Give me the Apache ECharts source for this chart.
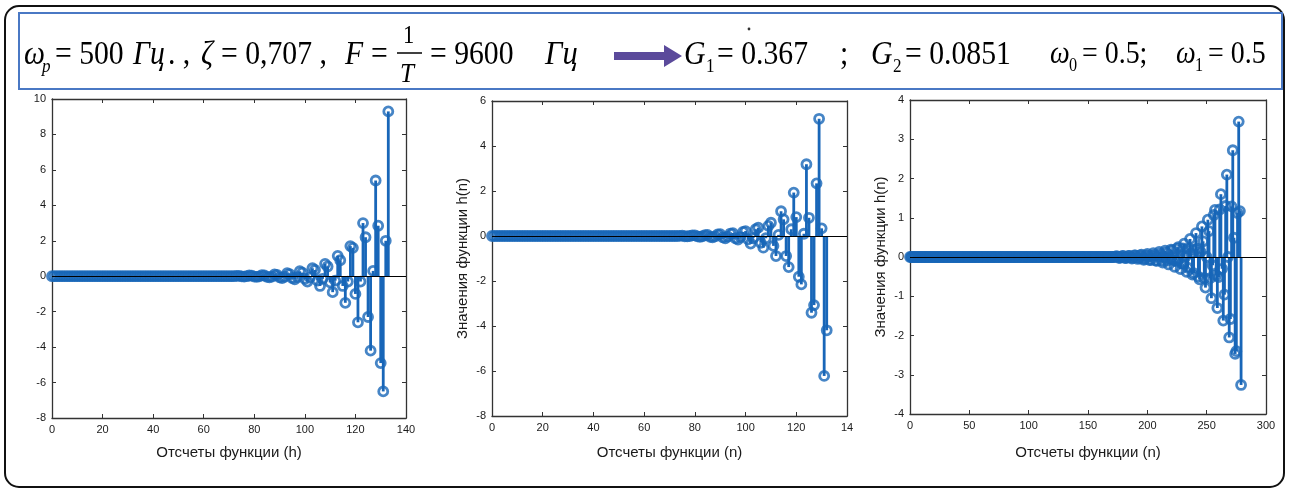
<!DOCTYPE html>
<html>
<head>
<meta charset="utf-8">
<script src="https://cdn.jsdelivr.net/npm/echarts@6/dist/echarts.min.js"></script>
<style>
html,body{margin:0;padding:0;background:#fff;}
#chart{width:1290px;height:493px;}
</style>
</head>
<body>
<div id="chart"></div>
<script>
// ---------- DATA ----------
// Panel 1: h(n), n = 0..133
const h1 = [
  0,0,0,0,0,0,0,0,0,0, 0,0,0,0,0,0,0,0,0,0,
  0,0,0,0,0,0,0,0,0,0, 0,0,0,0,0,0,0,0,0,0,
  0,0,0,0,0,0,0,0,0,0, 0,0,0,0,0,0,0,0,0,0,
  0,0,0,0,0,0,0,0,0,0, 0,0,0,
  0.02,0.02,-0.01,-0.02,0,0.04,0.03,-0.02,-0.04,-0.01,
  0.06,0.04,-0.04,-0.06,-0.02,0.1,0.07,-0.06,-0.11,-0.03,
  0.17,0.12,-0.1,-0.18,-0.05,0.28,0.2,-0.15,-0.3,-0.08,
  0.45,0.35,-0.25,-0.55,-0.15,0.7,0.55,-0.35,-0.9,-0.25,
  1.15,0.9,-0.55,-1.5,-0.3,1.7,1.6,-1.0,-2.6,-0.3,
  3.0,2.2,-2.3,-4.2,0.3,5.4,2.85,-4.9,-6.5,2.0,
  9.3
];
// Panel 2: h(n), n = 0..132
const h2 = [
  0,0,0,0,0,0,0,0,0,0, 0,0,0,0,0,0,0,0,0,0,
  0,0,0,0,0,0,0,0,0,0, 0,0,0,0,0,0,0,0,0,0,
  0,0,0,0,0,0,0,0,0,0, 0,0,0,0,0,0,0,0,0,0,
  0,0,0,0,0,0,0,0,0,0, 0,0,0,0,
  0.01,0.02,-0.01,-0.02,0,0.03,0.03,-0.02,-0.04,-0.01,
  0.04,0.05,-0.04,-0.06,-0.02,0.07,0.08,-0.06,-0.1,-0.03,
  0.11,0.13,-0.1,-0.16,-0.05,0.18,0.22,-0.15,-0.34,-0.1,
  0.3,0.37,-0.3,-0.52,-0.1,0.45,0.59,-0.44,-0.89,0.05,
  1.1,0.74,-0.89,-1.38,0.3,1.93,0.84,-1.81,-2.15,0.1,
  3.19,0.81,-3.41,-3.07,2.34,5.21,0.34,-6.22,-4.19
];
// Panel 3: h(n), n = 0..279
const h3 = [
  0,0,0,0,0,0,0,0,0,0, 0,0,0,0,0,0,0,0,0,0,
  0,0,0,0,0,0,0,0,0,0, 0,0,0,0,0,0,0,0,0,0,
  0,0,0,0,0,0,0,0,0,0, 0,0,0,0,0,0,0,0,0,0,
  0,0,0,0,0,0,0,0,0,0, 0,0,0,0,0,0,0,0,0,0,
  0,0,0,0,0,0,0,0,0,0, 0,0,0,0,0,0,0,0,0,0,
  0,0,0,0,0,0,0,0,0,0, 0,0,0,0,0,0,0,0,0,0,
  0,0,0,0,0,0,0,0,0,0, 0,0,0,0,0,0,0,0,0,0,
  0,0,0,0,0,0,0,0,0,0, 0,0,0,0,0,0,0,0,0,0,
  0,0,0,0,0,0,0,0,0,0, 0,0,0,
  0.01,0.02,0.01,-0.02,-0.02,0,0.03,0.02,-0.02,-0.03,
  -0.01,0.03,0.03,-0.01,-0.04,-0.02,0.04,0.04,-0.01,-0.05,
  -0.03,0.04,0.06,0,-0.07,-0.05,0.04,0.08,0.01,-0.08,
  -0.07,0.03,0.1,0.04,-0.09,-0.1,0.02,0.13,0.07,-0.09,
  -0.14,0,0.16,0.11,-0.09,-0.19,-0.04,0.19,0.17,-0.08,
  -0.25,-0.09,0.21,0.25,-0.05,-0.31,-0.17,0.22,0.34,0,
  -0.38,-0.27,0.22,0.46,0.09,-0.45,-0.41,0.19,0.61,0.21,
  -0.5,-0.57,0.13,0.78,0.4,-0.54,-0.78,0,0.95,0.66,
  -0.54,-1.05,-0.21,1.07,1.2,-0.47,-1.3,-0.51,1.21,1.6,
  -0.3,-1.62,-0.96,1.3,2.1,0,-2.05,-1.58,1.29,2.72,
  0.49,-2.47,-2.4,1.12,3.45,1.17,-3.26
];

// Tick values and labels
const xTicks1 = [0,20,40,60,80,100,120,140];
const xLabels1 = ['0','20','40','60','80','100','120','140'];
const yTicks1 = [-8,-6,-4,-2,0,2,4,6,8,10];
const yLabels1 = ['-8','-6','-4','-2','0','2','4','6','8','10'];
const xTicks2 = [0,20,40,60,80,100,120,140];
const xLabels2 = ['0','20','40','60','80','100','120','14'];
const yTicks2 = [-8,-6,-4,-2,0,2,4,6];
const yLabels2 = ['-8','-6','-4','-2','0','2','4','6'];
const xTicks3 = [0,50,100,150,200,250,300];
const xLabels3 = ['0','50','100','150','200','250','300'];
const yTicks3 = [-4,-3,-2,-1,0,1,2,3,4];
const yLabels3 = ['-4','-3','-2','-1','0','1','2','3','4'];

const xNames = ['Отсчеты функции (h)','Отсчеты функции (n)','Отсчеты функции (n)'];
const yNames = ['','Значения функции h(n)','Значения функции h(n)'];

// ---------- STYLE ----------
const STEM = '#1866b8';
const AXIS = '#333333';
const FONT = '"Liberation Sans", Arial, sans-serif';
const SERIF = '"Liberation Serif", "Times New Roman", serif';

const grids = [
  {left: 52, top: 99, width: 354, height: 319},
  {left: 492, top: 101, width: 355, height: 315},
  {left: 910, top: 100, width: 356, height: 314}
];
const xNameGaps = [27, 29, 31];

const panels = [
  {data: h1, xt: xTicks1, xl: xLabels1, yt: yTicks1, yl: yLabels1},
  {data: h2, xt: xTicks2, xl: xLabels2, yt: yTicks2, yl: yLabels2},
  {data: h3, xt: xTicks3, xl: xLabels3, yt: yTicks3, yl: yLabels3}
];

function fmt(ticks, labels) {
  return function (v) {
    const i = ticks.findIndex(t => Math.abs(t - v) < 1e-9);
    return i < 0 ? '' : labels[i];
  };
}

const xAxes = [], yAxes = [], series = [];
panels.forEach((p, g) => {
  const xmin = p.xt[0], xmax = p.xt[p.xt.length - 1];
  const xint = p.xt[1] - p.xt[0];
  const ymin = p.yt[0], ymax = p.yt[p.yt.length - 1];
  const yint = p.yt[1] - p.yt[0];
  const common = {type: 'value', gridIndex: g, splitLine: {show: false}};
  xAxes.push(Object.assign({}, common, {
    position: 'bottom', min: xmin, max: xmax, interval: xint,
    axisLine: {show: true, onZero: false, lineStyle: {color: AXIS, width: 1.3}},
    axisTick: {show: true, inside: true, length: 4, lineStyle: {color: AXIS}},
    axisLabel: {show: true, formatter: fmt(p.xt, p.xl), color: '#1a1a1a', fontSize: 11, fontFamily: FONT, margin: 6},
    name: xNames[g], nameLocation: 'middle', nameGap: xNameGaps[g],
    nameTextStyle: {color: '#1a1a1a', fontSize: 15, fontFamily: FONT}
  }));
  xAxes.push(Object.assign({}, common, {
    position: 'top', min: xmin, max: xmax, interval: xint,
    axisLine: {show: true, onZero: false, lineStyle: {color: AXIS, width: 1.3}},
    axisTick: {show: true, inside: true, length: 4, lineStyle: {color: AXIS}},
    axisLabel: {show: false}
  }));
  yAxes.push(Object.assign({}, common, {
    position: 'left', min: ymin, max: ymax, interval: yint,
    axisLine: {show: true, onZero: false, lineStyle: {color: AXIS, width: 1.3}},
    axisTick: {show: true, inside: true, length: 4, lineStyle: {color: AXIS}},
    axisLabel: {show: true, formatter: fmt(p.yt, p.yl), color: '#1a1a1a', fontSize: 11, fontFamily: FONT, margin: 6},
    name: yNames[g], nameLocation: 'middle', nameGap: 22, nameRotate: 90,
    nameTextStyle: {color: '#1a1a1a', fontSize: 15, fontFamily: FONT}
  }));
  yAxes.push(Object.assign({}, common, {
    position: 'right', min: ymin, max: ymax, interval: yint,
    axisLine: {show: true, onZero: false, lineStyle: {color: AXIS, width: 1.3}},
    axisTick: {show: true, inside: true, length: 4, lineStyle: {color: AXIS}},
    axisLabel: {show: false}
  }));
  const pts = p.data.map((v, i) => [i, v]);
  series.push({
    type: 'custom', xAxisIndex: 2 * g, yAxisIndex: 2 * g, data: pts,
    encode: {x: 0, y: 1}, z: 2, silent: true,
    renderItem: function (params, api) {
      const a = api.coord([api.value(0), 0]);
      const b = api.coord([api.value(0), api.value(1)]);
      return {type: 'line', shape: {x1: a[0], y1: a[1], x2: b[0], y2: b[1]},
              style: {stroke: STEM, lineWidth: 2.8}};
    },
    markLine: {silent: true, symbol: 'none', animation: false,
      data: [{yAxis: 0}], label: {show: false},
      lineStyle: {color: '#000', width: 1, type: 'solid'}}
  });
  series.push({
    type: 'scatter', xAxisIndex: 2 * g, yAxisIndex: 2 * g, data: pts, z: 3, silent: true,
    symbol: 'circle', symbolSize: 9,
    itemStyle: {color: 'rgba(0,0,0,0)', borderColor: STEM, borderWidth: 2.8}
  });
});

// ---------- HEADER (formula line) ----------
function t(x, y, text, size, italic, sx) {
  return {type: 'text', x: x, y: y, scaleX: sx || 0.9, silent: true,
    style: {text: text, fill: '#000', font: (italic ? 'italic ' : '') + size + 'px ' + SERIF,
            fontFamily: SERIF, fontSize: size, fontStyle: italic ? 'italic' : 'normal',
            align: 'left', verticalAlign: 'middle', textAlign: 'left', textVerticalAlign: 'middle'}};
}
const MY = 55;
const header = [
  {type: 'rect', shape: {x: 5, y: 6, width: 1279, height: 481, r: 14}, silent: true,
   style: {fill: 'none', stroke: '#111', lineWidth: 2}},
  {type: 'rect', shape: {x: 19, y: 13, width: 1263, height: 76}, silent: true,
   style: {fill: 'none', stroke: '#4a78c4', lineWidth: 2}},
  t(24, MY, 'ω', 33, true), t(42, MY + 12, 'p', 19, true),
  t(55, MY, '= 500', 33, false),
  t(133, MY, 'Гц', 33, true),
  t(168, MY, '. ,', 33, false),
  t(201, MY, 'ζ', 33, true),
  t(221, MY, '= 0,707 ,', 33, false),
  t(345, MY, 'F', 33, true),
  t(371, MY, '=', 33, false),
  t(403, MY - 19, '1', 25, false),
  {type: 'line', shape: {x1: 397, y1: 53, x2: 422, y2: 53}, silent: true, style: {stroke: '#000', lineWidth: 1.5}},
  t(400, MY + 20, 'T', 28, true),
  t(430, MY, '= 9600', 33, false),
  t(545, MY, 'Гц', 34, true),
  {type: 'polygon', silent: true,
   shape: {points: [[614, 52], [664, 52], [664, 45], [682, 56], [664, 67], [664, 60], [614, 60]]},
   style: {fill: '#5b4a9b'}},
  t(684, MY, 'G', 33, true), t(706, MY + 12, '1', 19, false),
  t(717, MY, '= 0.367', 33, false),
  {type: 'circle', shape: {cx: 749, cy: 29, r: 1.4}, silent: true, style: {fill: '#333'}},
  t(840, MY, ';', 33, false),
  t(871, MY, 'G', 33, true), t(893, MY + 12, '2', 19, false),
  t(905, MY, '= 0.0851', 33, false),
  t(1050, MY, 'ω', 31, true), t(1069, MY + 11, '0', 18, false),
  t(1082, MY, '= 0.5;', 31, false),
  t(1176, MY, 'ω', 31, true), t(1195, MY + 11, '1', 18, false),
  t(1208, MY, '= 0.5', 31, false)
];

const chart = echarts.init(document.getElementById('chart'), null, {renderer: 'canvas'});
chart.setOption({
  animation: false,
  backgroundColor: '#fff',
  grid: grids,
  xAxis: xAxes,
  yAxis: yAxes,
  series: series,
  graphic: {elements: header}
});
</script>
</body>
</html>
